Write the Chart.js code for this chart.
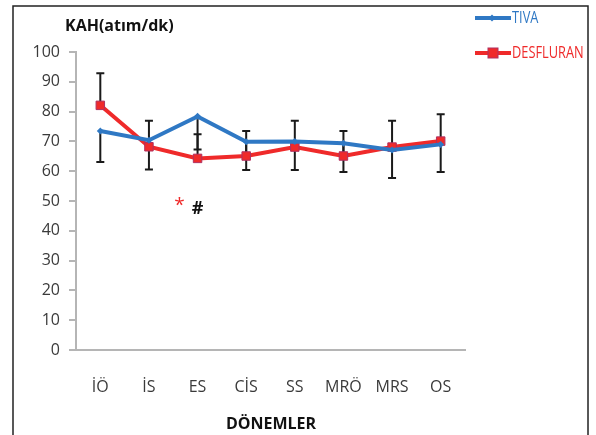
<!DOCTYPE html>
<html>
<head>
<meta charset="utf-8">
<script src="https://cdn.jsdelivr.net/npm/chart.js@4"></script>
<style>
  html, body { margin: 0; padding: 0; background: #fff; }
  #wrap { width: 596px; height: 435px; position: relative; }
</style>
</head>
<body>
<div id="wrap"><canvas id="myChart" width="596" height="435"></canvas></div>
<script>
const periods = ['İÖ', 'İS', 'ES', 'CİS', 'SS', 'MRÖ', 'MRS', 'OS'];
const tiva = [73.5, 70.4, 78.4, 69.9, 70, 69.4, 67.1, 69];
const tivaSd = [10.4, 9.8, 11.1, 9.5, 9.6, 9.7, 9.4, 9.3];
const desflurane = [82.1, 68.2, 64.3, 65.1, 68.1, 65.1, 68.1, 70.1];
const desfluraneSd = [10.8, 8.7, 8.1, 8.4, 8.8, 8.4, 8.8, 9];
const yTicks = [0, 10, 20, 30, 40, 50, 60, 70, 80, 90, 100];

const blue = '#2f78c4';
const red = '#ef2a2a';
const tickFont = { family: 'Open Sans', size: 16 };

// black one-sided sd bars: TIVA downward, desflurane upward
const errorBars = {
  id: 'errorBars',
  beforeDatasetsDraw(chart) {
    const ctx = chart.ctx;
    const x = chart.scales.x, y = chart.scales.y;
    ctx.save();
    ctx.strokeStyle = '#1a1a1a';
    ctx.lineWidth = 2;
    const bar = (i, from, to) => {
      const px = x.getPixelForValue(i);
      const a = y.getPixelForValue(from), b = y.getPixelForValue(to);
      ctx.beginPath();
      ctx.moveTo(px, a); ctx.lineTo(px, b);
      ctx.moveTo(px - 4, b); ctx.lineTo(px + 4, b);
      ctx.stroke();
    };
    periods.forEach((p, i) => {
      bar(i, tiva[i], tiva[i] - tivaSd[i]);
      bar(i, desflurane[i], desflurane[i] + desfluraneSd[i]);
    });
    ctx.restore();
  }
};

const extras = {
  id: 'extras',
  afterDraw(chart) {
    const ctx = chart.ctx;
    const x = chart.scales.x, y = chart.scales.y;
    ctx.save();
    // frame
    ctx.strokeStyle = '#222';
    ctx.lineWidth = 1.5;
    ctx.strokeRect(13, 6, 575, 440);
    // y title
    ctx.fillStyle = '#111';
    ctx.font = 'bold 16px "Open Sans"';
    ctx.textBaseline = 'middle';
    ctx.textAlign = 'left';
    ctx.fillText('KAH(atım/dk)', 65, 26);
    // x title
    ctx.textAlign = 'center';
    ctx.fillText('DÖNEMLER', 271, 424);
    // significance marks near ES
    const esX = x.getPixelForValue(2);
    ctx.fillStyle = red;
    ctx.font = '19px "Open Sans"';
    ctx.fillText('*', esX - 18, y.getPixelForValue(48.3));
    ctx.fillStyle = '#111';
    ctx.font = 'bold 18px "Open Sans"';
    ctx.fillText('#', esX, y.getPixelForValue(47.3));
    // legend
    const items = [
      { label: 'TIVA', color: blue, y: 18, square: false },
      { label: 'DESFLURAN', color: red, y: 53, square: true }
    ];
    items.forEach(it => {
      ctx.strokeStyle = it.color;
      ctx.lineWidth = 4;
      ctx.beginPath();
      ctx.moveTo(475, it.y); ctx.lineTo(511, it.y);
      ctx.stroke();
      ctx.fillStyle = it.color;
      if (it.square) {
        ctx.fillRect(488, it.y - 5, 10, 10);
        ctx.strokeStyle = '#b03060';
        ctx.lineWidth = 1;
        ctx.strokeRect(488, it.y - 5, 10, 10);
      } else {
        ctx.beginPath();
        ctx.moveTo(492, it.y - 3.5); ctx.lineTo(495.5, it.y); ctx.lineTo(492, it.y + 3.5); ctx.lineTo(488.5, it.y);
        ctx.fill();
      }
      // narrow label text
      ctx.save();
      ctx.translate(512, it.y);
      ctx.scale(0.8, 1.05);
      ctx.fillStyle = it.color;
      ctx.textAlign = 'left';
      ctx.font = '16px "Open Sans"';
      ctx.fillText(it.label, 0, 0);
      ctx.restore();
    });
    ctx.restore();
  }
};

const ctx = document.getElementById('myChart');

let myChart = new Chart(ctx, {
  type: 'line',
  data: {
    labels: periods,
    datasets: [{
      label: 'TIVA',
      data: tiva,
      borderColor: blue,
      backgroundColor: blue,
      borderWidth: 4,
      pointStyle: 'rectRot',
      pointRadius: 3.5,
      pointBorderWidth: 0,
      tension: 0
    }, {
      label: 'DESFLURAN',
      data: desflurane,
      borderColor: red,
      backgroundColor: red,
      borderWidth: 4,
      pointStyle: 'rect',
      pointRadius: 6,
      pointBorderColor: '#b03060',
      pointBorderWidth: 1,
      tension: 0
    }]
  },
  options: {
    responsive: false,
    animation: false,
    layout: { padding: { top: 52, right: 131, left: 0, bottom: 0 } },
    plugins: {
      legend: { display: false },
      tooltip: { enabled: false }
    },
    scales: {
      x: {
        offset: true,
        grid: { display: false },
        border: { display: true, color: '#b5b5b5', width: 2 },
        ticks: { font: tickFont, color: '#3a3a3a', padding: 20, maxRotation: 0 },
        afterFit(scale) { scale.height = 85; }
      },
      y: {
        min: 0,
        max: 100,
        afterBuildTicks(scale) { scale.ticks = yTicks.map(v => ({ value: v })); },
        grid: { display: true, drawOnChartArea: false, drawTicks: true, tickLength: 7, color: '#b5b5b5', lineWidth: 2 },
        border: { display: true, color: '#b5b5b5', width: 2 },
        ticks: { font: tickFont, color: '#3a3a3a', padding: 9 },
        afterFit(scale) { scale.width = 76; }
      }
    }
  },
  plugins: [errorBars, extras]
});
</script>
</body>
</html>
